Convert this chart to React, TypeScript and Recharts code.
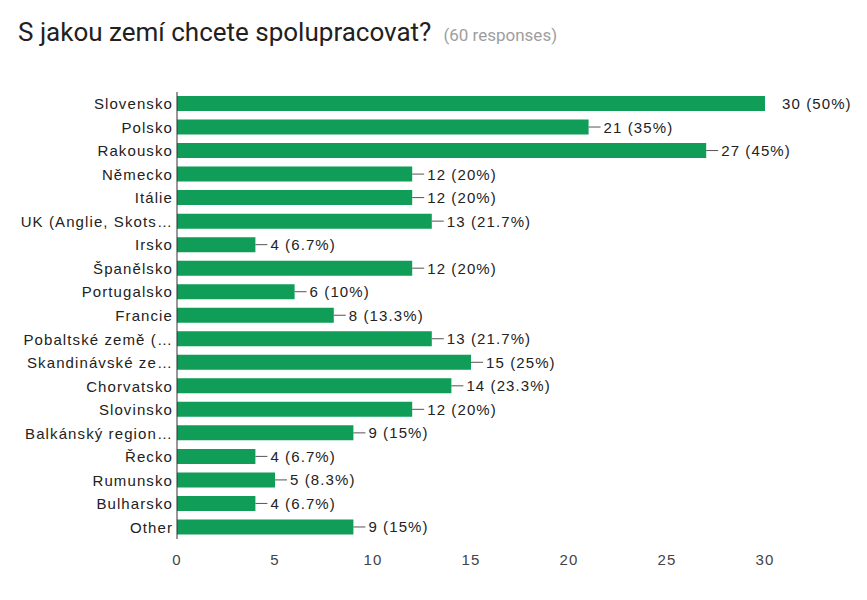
import { BarChart, Bar, XAxis, YAxis, LabelList } from "recharts";

const TOTAL = 60;
const X_MAX = 30;

const countries = [
  "Slovensko",
  "Polsko",
  "Rakousko",
  "Německo",
  "Itálie",
  "UK (Anglie, Skots…",
  "Irsko",
  "Španělsko",
  "Portugalsko",
  "Francie",
  "Pobaltské země (…",
  "Skandinávské ze…",
  "Chorvatsko",
  "Slovinsko",
  "Balkánský region…",
  "Řecko",
  "Rumunsko",
  "Bulharsko",
  "Other",
];

const counts = [30, 21, 27, 12, 12, 13, 4, 12, 6, 8, 13, 15, 14, 12, 9, 4, 5, 4, 9];

const xTicks = [0, 5, 10, 15, 20, 25, 30];

const data = countries.map((name, i) => ({ name, value: counts[i] }));

const FONT = "Arial, 'Liberation Sans', sans-serif";

function pct(v: number) {
  const p = Math.round((v / TOTAL) * 1000) / 10;
  return `${p}%`;
}

function CategoryTick(props: any) {
  const { x, y, payload } = props;
  return (
    <text
      x={x}
      y={y}
      textAnchor="end"
      dominantBaseline="central"
      fontSize={15}
      fontFamily={FONT}
      fill="#222"
      style={{ letterSpacing: "1.1px" }}
    >
      {payload.value}
    </text>
  );
}

function NumberTick(props: any) {
  const { x, y, payload } = props;
  return (
    <text
      x={x}
      y={y}
      textAnchor="middle"
      dominantBaseline="central"
      fontSize={15}
      fontFamily={FONT}
      fill="#444"
      style={{ letterSpacing: "1.1px" }}
    >
      {payload.value}
    </text>
  );
}

function ValueLabel(props: any) {
  const { x, y, width, height, value } = props;
  const end = x + width;
  const cy = y + height / 2;
  const atMax = value >= X_MAX;
  return (
    <g>
      {!atMax && <line x1={end} y1={cy} x2={end + 12} y2={cy} stroke="#555" strokeWidth={1} />}
      <text
        x={end + (atMax ? 17 : 15)}
        y={cy}
        dominantBaseline="central"
        fontSize={15}
        fontFamily={FONT}
        fill="#222"
        style={{ letterSpacing: "1.1px" }}
      >
        {`${value} (${pct(value)})`}
      </text>
    </g>
  );
}

export default function App() {
  return (
    <div
      style={{
        position: "absolute",
        left: 0,
        top: 0,
        width: 867,
        height: 600,
        background: "#fff",
      }}
    >
      <div
        style={{
          position: "absolute",
          left: 18,
          top: 17,
          lineHeight: "30px",
          fontFamily: "Roboto, sans-serif",
          whiteSpace: "nowrap",
        }}
      >
        <span style={{ fontSize: 26, color: "#212121" }}>S jakou zemí chcete spolupracovat?</span>
        <span style={{ fontSize: 17, color: "#9e9e9e", marginLeft: 12 }}>(60 responses)</span>
      </div>
      <BarChart
        width={867}
        height={600}
        data={data}
        layout="vertical"
        margin={{ top: 92, right: 102, bottom: 31, left: 0 }}
      >
        <XAxis
          type="number"
          domain={[0, X_MAX]}
          ticks={xTicks}
          axisLine={false}
          tickLine={false}
          tickSize={0}
          tickMargin={20}
          tick={<NumberTick />}
          height={30}
        />
        <YAxis
          type="category"
          dataKey="name"
          width={177}
          interval={0}
          tickLine={false}
          tickSize={0}
          tickMargin={4}
          axisLine={{ stroke: "#333" }}
          tick={<CategoryTick />}
        />
        <Bar dataKey="value" fill="#0f9d58" barSize={15} isAnimationActive={false}>
          <LabelList dataKey="value" content={<ValueLabel />} />
        </Bar>
      </BarChart>
    </div>
  );
}
